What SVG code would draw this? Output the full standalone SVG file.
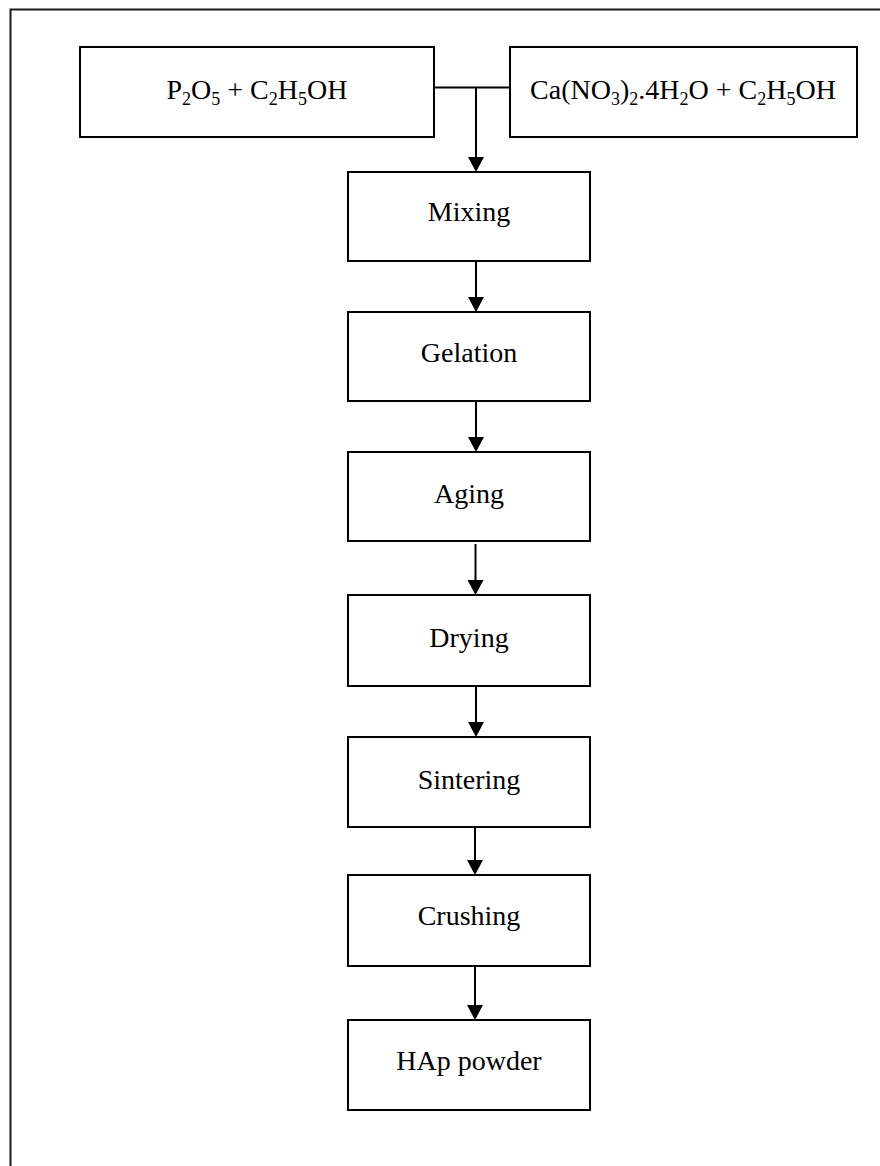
<svg xmlns="http://www.w3.org/2000/svg" width="880" height="1166" viewBox="0 0 880 1166">
  <style>
    .box { fill: #ffffff; stroke: #000000; stroke-width: 2; }
    .lbl { font-family: "Liberation Serif", "Times New Roman", serif; font-size: 28px; fill: #000000; text-anchor: middle; }
    .sub { font-size: 18px; }
    .wire { fill: none; stroke: #000000; stroke-width: 2; }
    .frame { fill: none; stroke: #1a1a1a; stroke-width: 2; }
  </style>
  <defs>
    <marker id="arrow" markerUnits="userSpaceOnUse" markerWidth="16" markerHeight="16" viewBox="0 0 16 16" refX="8" refY="15" orient="auto-start-reverse">
      <path d="M0,0 L16,0 L8,15 Z" fill="#000000" transform="rotate(-90 8 8)"/>
    </marker>
  </defs>
  <rect width="880" height="1166" fill="#ffffff"/>

  <!-- outer frame (open to the right and bottom) -->
  <path class="frame" d="M10.5,1170 V9.5 H885"/>

  <!-- connectors -->
  <g id="connectors">
    <path class="wire" d="M434,87.5 H510"/>
    <path class="wire" d="M476,87.5 V164" />
    <polygon points="468,157 484,157 476,172"/>
    <path class="wire" d="M476,261 V304"/>
    <polygon points="468,297 484,297 476,312"/>
    <path class="wire" d="M476,401 V444"/>
    <polygon points="468,437 484,437 476,452"/>
    <path class="wire" d="M475.5,544 V587"/>
    <polygon points="467.5,580 483.5,580 475.5,595"/>
    <path class="wire" d="M476,686 V729"/>
    <polygon points="468,722 484,722 476,737"/>
    <path class="wire" d="M475,827 V867"/>
    <polygon points="467,860 483,860 475,875"/>
    <path class="wire" d="M475,966 V1012"/>
    <polygon points="467,1005 483,1005 475,1020"/>
  </g>

  <g id="node-p2o5">
    <rect class="box" x="80" y="47" width="354" height="90"/>
    <text class="lbl" x="257" y="99">P<tspan class="sub" dy="6">2</tspan><tspan dy="-6">O</tspan><tspan class="sub" dy="6">5</tspan><tspan dy="-6"> + C</tspan><tspan class="sub" dy="6">2</tspan><tspan dy="-6">H</tspan><tspan class="sub" dy="6">5</tspan><tspan dy="-6">OH</tspan></text>
  </g>

  <g id="node-canitrate">
    <rect class="box" x="510" y="47" width="347" height="90"/>
    <text class="lbl" x="683" y="99">Ca(NO<tspan class="sub" dy="6">3</tspan><tspan dy="-6">)</tspan><tspan class="sub" dy="6">2</tspan><tspan dy="-6">.4H</tspan><tspan class="sub" dy="6">2</tspan><tspan dy="-6">O + C</tspan><tspan class="sub" dy="6">2</tspan><tspan dy="-6">H</tspan><tspan class="sub" dy="6">5</tspan><tspan dy="-6">OH</tspan></text>
  </g>

  <g id="node-mixing">
    <rect class="box" x="348" y="172" width="242" height="89"/>
    <text class="lbl" x="469" y="221">Mixing</text>
  </g>

  <g id="node-gelation">
    <rect class="box" x="348" y="312" width="242" height="89"/>
    <text class="lbl" x="469" y="362">Gelation</text>
  </g>

  <g id="node-aging">
    <rect class="box" x="348" y="452" width="242" height="89"/>
    <text class="lbl" x="469" y="503">Aging</text>
  </g>

  <g id="node-drying">
    <rect class="box" x="348" y="595" width="242" height="91"/>
    <text class="lbl" x="469" y="647">Drying</text>
  </g>

  <g id="node-sintering">
    <rect class="box" x="348" y="737" width="242" height="90"/>
    <text class="lbl" x="469" y="789">Sintering</text>
  </g>

  <g id="node-crushing">
    <rect class="box" x="348" y="875" width="242" height="91"/>
    <text class="lbl" x="469" y="925">Crushing</text>
  </g>

  <g id="node-hap">
    <rect class="box" x="348" y="1020" width="242" height="90"/>
    <text class="lbl" x="469" y="1070">HAp powder</text>
  </g>
</svg>
